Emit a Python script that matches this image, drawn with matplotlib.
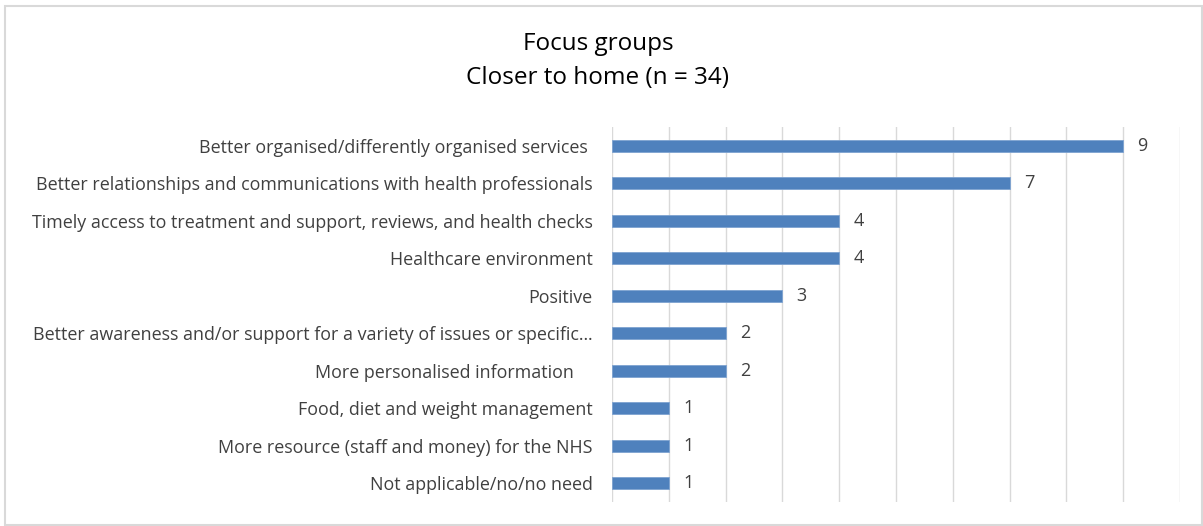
import numpy as np
import matplotlib.pyplot as plt
from matplotlib.patches import Rectangle

# Chart data
categories = [
    'Better organised/differently organised services ',
    'Better relationships and communications with health professionals',
    'Timely access to treatment and support, reviews, and health checks',
    'Healthcare environment',
    'Positive',
    'Better awareness and/or support for a variety of issues or specific\u2026',
    'More personalised information    ',
    'Food, diet and weight management',
    'More resource (staff and money) for the NHS',
    'Not applicable/no/no need',
]
counts = [9, 7, 4, 4, 3, 2, 2, 1, 1, 1]
title_lines = ['Focus groups', 'Closer to home (n = 34)']

plt.rcParams['font.family'] = ['Open Sans', 'DejaVu Sans']

fig = plt.figure(figsize=(12.03, 5.26), dpi=100)
ax = fig.add_axes([0.5087, 0.0456, 0.4722, 0.713])

# chart border
fig.patches.append(Rectangle((5 / 1203, 0.002), 1 - 6 / 1203, 1 - 7 / 526,
                             transform=fig.transFigure, fill=False,
                             edgecolor='#D9D9D9', linewidth=1.5))

y = np.arange(len(categories))
ax.barh(y, counts, height=0.33, color='#4F81BD', edgecolor='#7EA3D1', linewidth=0.6, zorder=3)

for yi, v in zip(y, counts):
    ax.text(v + 0.25, yi, str(v), va='center', ha='left', fontsize=13, color='#404040')

ax.set_xlim(0, 10)
ax.set_ylim(len(categories) - 0.5, -0.5)
ax.set_xticks(np.arange(0, 11))
ax.set_xticklabels([])
ax.set_yticks(y)
ax.set_yticklabels(categories, fontsize=12.9, color='#404040')
ax.tick_params(axis='both', length=0, pad=14)
ax.grid(axis='x', color='#D9D9D9', linewidth=1, zorder=0)
for s in ax.spines.values():
    s.set_visible(False)

fig.text(0.497, 1 - 44 / 526, title_lines[0], ha='center', va='center', fontsize=17.5, color='#000000')
fig.text(0.497, 1 - 78 / 526, title_lines[1], ha='center', va='center', fontsize=17.5, color='#000000')

plt.savefig('out.png', dpi=100)
